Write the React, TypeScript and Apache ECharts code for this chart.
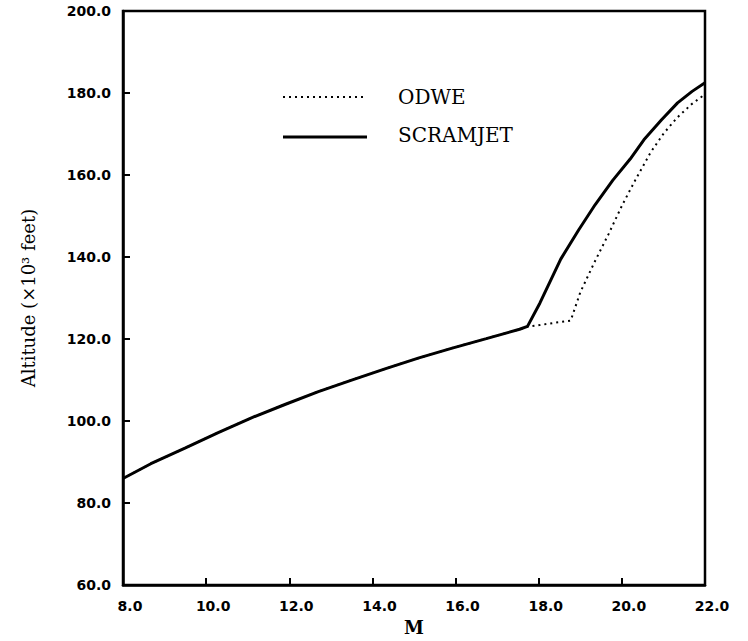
import React, { useEffect, useRef } from "react";
import * as echarts from "echarts";

// Mach number / altitude (x10^3 ft)
const scramMach = [8.0, 8.67, 9.49, 10.29, 11.09, 11.91, 12.7, 13.5, 14.32, 15.12, 15.92, 16.74, 17.54, 17.73, 18.03, 18.53, 18.96, 19.36, 19.78, 20.2, 20.53, 20.95, 21.34, 21.69, 22.0];
const scramAlt = [86.0, 89.6, 93.4, 97.2, 100.8, 104.1, 107.2, 110.0, 112.8, 115.4, 117.8, 120.1, 122.4, 123.1, 128.8, 139.5, 146.6, 152.8, 158.7, 163.9, 168.6, 173.4, 177.6, 180.4, 182.5];

const odweMach = [8.0, 8.67, 9.49, 10.29, 11.09, 11.91, 12.7, 13.5, 14.32, 15.12, 15.92, 16.74, 17.54, 17.73, 18.02, 18.4, 18.77, 19.0, 19.33, 19.68, 20.01, 20.34, 20.69, 21.01, 21.33, 21.68, 22.0];
const odweAlt = [86.0, 89.6, 93.4, 97.2, 100.8, 104.1, 107.2, 110.0, 112.8, 115.4, 117.8, 120.1, 122.4, 123.0, 123.4, 124.0, 124.5, 131.4, 138.5, 145.6, 152.7, 159.1, 165.5, 170.2, 174.0, 177.3, 179.7];

const seriesNames = ["ODWE", "SCRAMJET"];
const xTicks = { min: 8, max: 22, interval: 2 };
const yTicks = { min: 60, max: 200, interval: 20 };

const ODWE_DASH = [2, 4];

export default function App() {
  const ref = useRef<HTMLDivElement>(null);
  useEffect(() => {
    if (!ref.current) return;
    const chart = echarts.init(ref.current, null, { renderer: "svg" });
    const tickLabel = {
      fontFamily: "DejaVu Sans",
      fontWeight: "bold" as const,
      fontSize: 14,
      color: "#000",
      formatter: (v: number) => v.toFixed(1),
    };
    const legendText = {
      fontFamily: "DejaVu Serif",
      fontSize: 20,
      fill: "#000",
      textVerticalAlign: "middle",
      verticalAlign: "middle",
      align: "left",
    };
    chart.setOption({
      animation: false,
      backgroundColor: "#fff",
      grid: {
        left: 123,
        right: 43,
        top: 11,
        bottom: 44,
        show: true,
        borderColor: "#000",
        borderWidth: 2.5,
        backgroundColor: "transparent",
      },
      graphic: [
        {
          type: "line",
          shape: { x1: 283, y1: 97, x2: 365, y2: 97 },
          style: { stroke: "#000", lineWidth: 2, lineDash: ODWE_DASH },
        },
        {
          type: "text",
          x: 398,
          y: 97,
          style: { ...legendText, text: seriesNames[0] },
        },
        {
          type: "line",
          shape: { x1: 283, y1: 137, x2: 367, y2: 137 },
          style: { stroke: "#000", lineWidth: 3 },
        },
        {
          type: "text",
          x: 398,
          y: 135,
          style: { ...legendText, text: seriesNames[1] },
        },
      ],
      xAxis: {
        type: "value",
        min: xTicks.min,
        max: xTicks.max,
        interval: xTicks.interval,
        name: "M",
        nameLocation: "middle",
        nameGap: 31,
        nameTextStyle: {
          fontFamily: "DejaVu Serif",
          fontWeight: "bold",
          fontSize: 18,
          color: "#000",
        },
        axisLine: { show: true, lineStyle: { color: "#000", width: 2.5 } },
        axisTick: { show: true, inside: true, length: 7, lineStyle: { color: "#000", width: 2 } },
        axisLabel: { ...tickLabel, margin: 14, padding: [0, 0, 0, 14] },
        splitLine: { show: false },
      },
      yAxis: {
        type: "value",
        min: yTicks.min,
        max: yTicks.max,
        interval: yTicks.interval,
        name: "Altitude (×10³ feet)",
        nameLocation: "middle",
        nameRotate: 90,
        nameGap: 86,
        nameTextStyle: {
          fontFamily: "DejaVu Serif",
          fontSize: 18,
          color: "#000",
        },
        axisLine: { show: true, lineStyle: { color: "#000", width: 2.5 } },
        axisTick: { show: true, inside: true, length: 7, lineStyle: { color: "#000", width: 2 } },
        axisLabel: { ...tickLabel, margin: 12, padding: [6, 0, 0, 0] },
        splitLine: { show: false },
      },
      series: [
        {
          name: seriesNames[0],
          type: "line",
          data: odweMach.map((m, i) => [m, odweAlt[i]]),
          symbol: "none",
          lineStyle: { color: "#000", width: 2, type: ODWE_DASH },
          itemStyle: { color: "#000" },
          z: 2,
        },
        {
          name: seriesNames[1],
          type: "line",
          data: scramMach.map((m, i) => [m, scramAlt[i]]),
          symbol: "none",
          lineStyle: { color: "#000", width: 3 },
          itemStyle: { color: "#000" },
          z: 3,
        },
      ],
    });
    return () => chart.dispose();
  }, []);
  return (
    <div
      ref={ref}
      style={{ position: "fixed", left: 0, top: 0, width: 748, height: 641 }}
    />
  );
}
